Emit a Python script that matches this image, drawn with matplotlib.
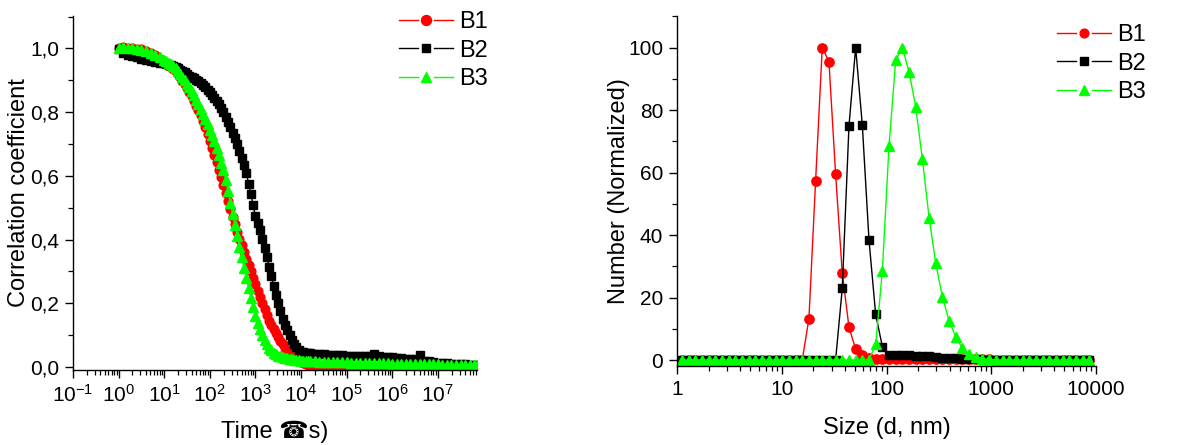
import numpy as np
import matplotlib
matplotlib.use("Agg")
import matplotlib.pyplot as plt
from matplotlib.lines import Line2D
from matplotlib.ticker import FuncFormatter, LogLocator, MultipleLocator, NullFormatter

plt.rcParams['font.family'] = ['Liberation Sans', 'DejaVu Sans']
plt.rcParams['mathtext.fontset'] = 'custom'
plt.rcParams['mathtext.rm'] = 'Liberation Sans'
plt.rcParams['mathtext.it'] = 'Liberation Sans:italic'
plt.rcParams['mathtext.bf'] = 'Liberation Sans:bold'
plt.rcParams['mathtext.default'] = 'regular'

# ---------------- data: correlogram (left) ----------------
log10_time_us = [
    0.0, 0.1, 0.2, 0.3, 0.4, 0.5, 0.6, 0.7, 0.8, 0.9,
    1.00, 1.05, 1.10, 1.15, 1.20, 1.25, 1.30, 1.35, 1.40, 1.45,
    1.50, 1.55, 1.60, 1.65, 1.70, 1.75, 1.80, 1.85, 1.90, 1.95,
    2.00, 2.05, 2.10, 2.15, 2.20, 2.25, 2.30, 2.35, 2.40, 2.45,
    2.50, 2.55, 2.60, 2.65, 2.70, 2.75, 2.80, 2.85, 2.90, 2.95,
    3.00, 3.05, 3.10, 3.15, 3.20, 3.25, 3.30, 3.35, 3.40, 3.45,
    3.50, 3.55, 3.60, 3.65, 3.70, 3.75, 3.80, 3.85, 3.90, 3.95,
    4.00, 4.05, 4.10, 4.15, 4.20,
    4.3, 4.4, 4.5, 4.6, 4.7, 4.8, 4.9, 5.0, 5.1, 5.2,
    5.3, 5.4, 5.5, 5.6, 5.7, 5.8, 5.9, 6.0, 6.1, 6.2,
    6.3, 6.4, 6.5, 6.6, 6.7, 6.8, 6.9, 7.0, 7.1, 7.2,
    7.3, 7.4, 7.5, 7.6, 7.7, 7.8, 7.86,
]

corr_B1 = [
    1.000, 1.004, 1.001, 1.003, 0.999, 0.997, 0.992, 0.986, 0.978, 0.967,
    .955, .951, .946, .941, .935, .928, .919, .909, .898, .887,
    .875, .863, .850, .836, .821, .806, .790, .771, .752, .731,
    .710, .688, .666, .643, .620, .595, .570, .545, .520, .496,
    .472, .448, .425, .403, .382, .361, .340, .320, .300, .280,
    .260, .240, .220, .200, .181, .163, .146, .132, .119, .107,
    .095, .083, .071, .060, .051, .043, .036, .030, .025, .020,
    .016, .012, .009, .006, .004,
    .001, -.001, -.003, -.004, -.005, -.005, -.006, -.006, -.005, -.005,
    -.004, -.003, -.002, .000, .002, .004, .006, .008, .010, .012,
    .013, .012, .011, .010, .009, .008, .007, .006, .005, .005,
    .004, .004, .003, .003, .002, .002, .000,
]

corr_B2 = [
    0.997, 0.985, 0.979, 0.975, 0.972, 0.968, 0.965, 0.961, 0.958, 0.955,
    .953, .951, .949, .947, .945, .942, .938, .934, .930, .925,
    .920, .915, .910, .906, .901, .897, .892, .885, .878, .870,
    .862, .853, .844, .835, .825, .813, .800, .786, .770, .753,
    .736, .718, .700, .679, .657, .634, .610, .576, .542, .508,
    .475, .452, .430, .403, .375, .345, .315, .285, .255, .227,
    .200, .175, .152, .132, .115, .099, .085, .073, .062, .054,
    .048, .046, .045, .044, .043,
    .042, .041, .040, .039, .038, .038, .037, .036, .036, .035,
    .035, .034, .034, .042, .033, .032, .031, .030, .029, .027,
    .026, .025, .024, .037, .020, .018, .016, .014, .013, .012,
    .011, .010, .009, .008, .007, .006, .005,
]

corr_B3 = [
    1.002, 1.005, 1.003, 1.001, 0.999, 0.996, 0.992, 0.987, 0.980, 0.973,
    .965, .961, .956, .951, .945, .938, .930, .921, .912, .901,
    .890, .879, .867, .853, .839, .825, .810, .795, .779, .762,
    .745, .727, .708, .688, .666, .642, .617, .587, .552, .516,
    .480, .446, .412, .377, .344, .311, .280, .249, .218, .188,
    .160, .138, .118, .100, .085, .072, .061, .052, .045, .040,
    .036, .033, .031, .029, .027, .026, .024, .023, .022, .021,
    .020, .020, .019, .019, .018,
    .018, .017, .017, .016, .016, .015, .015, .015, .014, .014,
    .014, .013, .013, .013, .012, .012, .012, .011, .011, .011,
    .010, .010, .010, .009, .009, .008, .008, .008, .007, .007,
    .007, .006, .006, .006, .005, .005, .005,
]

# ---------------- data: size distribution (right) ----------------
size_nm = [
    1.117, 1.294, 1.499, 1.736, 2.010, 2.328, 2.696, 3.122, 3.615, 4.187,
    4.849, 5.615, 6.503, 7.531, 8.721, 10.10, 11.70, 13.54, 15.69, 18.17,
    21.04, 24.36, 28.21, 32.67, 37.84, 43.82, 50.75, 58.77, 68.06, 78.82,
    91.28, 105.7, 122.4, 141.8, 164.2, 190.1, 220.2, 255.0, 295.3, 342.0,
    396.1, 458.7, 531.2, 615.1, 712.4, 825.0, 955.4, 1106, 1281, 1484,
    1718, 1990, 2305, 2669, 3091, 3580, 4145, 4801, 5560, 6439,
    7456, 8635,
]

number_B1 = [
    0, 0, 0, 0, 0, 0, 0, 0, 0, 0,
    0, 0, 0, 0, 0, 0, 0, 0, 0, 13.2,
    57.2, 100, 95.5, 59.5, 27.7, 10.5, 3.5, 1.5, 0.5, 0.3,
    0.2, 0.2, 0.2, 0.2, 0.2, 0.2, 0.2, 0.2, 0.2, 0.2,
    0.2, 0.2, 0.2, 0.2, 0.2, 0.2, 0.2, 0, 0, 0,
    0, 0, 0, 0, 0, 0, 0, 0, 0, 0,
    0, 0,
]

number_B2 = [
    0, 0, 0, 0, 0, 0, 0, 0, 0, 0,
    0, 0, 0, 0, 0, 0, 0, 0, 0, 0,
    0, 0, 0, 0, 23.0, 74.9, 100, 75.2, 38.4, 14.6,
    4.3, 1.6, 1.5, 1.5, 1.5, 1.4, 1.3, 1.2, 1.0, 0.8,
    0.6, 0.5, 0.4, 0.3, 0.2, 0, 0, 0, 0, 0,
    0, 0, 0, 0, 0, 0, 0, 0, 0, 0,
    0, 0,
]

number_B3 = [
    0, 0, 0, 0, 0, 0, 0, 0, 0, 0,
    0, 0, 0, 0, 0, 0, 0, 0, 0, 0,
    0, 0, 0, 0, 0, 0, 0, 0, 0, 5.0,
    28.5, 68.5, 96.0, 100, 92.2, 81.0, 64.2, 45.6, 30.9, 20.2,
    12.5, 7.3, 3.7, 2.0, 1.0, 0.4, 0.2, 0, 0, 0,
    0, 0, 0, 0, 0, 0, 0, 0, 0, 0,
    0, 0,
]

series_labels = ["B1", "B2", "B3"]
series_colors = ["#ff0000", "#000000", "#00ff00"]
series_markers = ["o", "s", "^"]


class GapLineHandler:
    """Origin-style legend entry: line - marker - line with small gaps."""
    def __init__(self, ms):
        self.ms = ms

    def legend_artist(self, legend, orig_handle, fontsize, handlebox):
        x0 = -handlebox.xdescent
        y0 = -handlebox.ydescent
        w = handlebox.width
        h = handlebox.height
        yc = y0 + h / 2.0
        c = orig_handle.get_color()
        lw = orig_handle.get_linewidth()
        seg = 0.35 * w
        tr = handlebox.get_transform()
        a1 = Line2D([x0, x0 + seg], [yc, yc], color=c, lw=lw, transform=tr)
        a2 = Line2D([x0 + w - seg, x0 + w], [yc, yc], color=c, lw=lw, transform=tr)
        mk = orig_handle.get_marker()
        m = Line2D([x0 + w / 2.0], [yc], ls='none', marker=mk,
                   ms=self.ms[mk], color=c, mec=c, transform=tr)
        for a in (a1, a2, m):
            handlebox.add_artist(a)
        return m


fig = plt.figure(figsize=(11.88, 4.45), dpi=100)
W, H = 1188.0, 445.0

def axes_px(l, r, t, b):
    return fig.add_axes([l / W, 1 - b / H, (r - l) / W, (b - t) / H])

axL = axes_px(73.0, 477.0, 16.0, 370.0)
axR = axes_px(677.0, 1096.0, 16.0, 366.0)

t_us = 10.0 ** np.array(log10_time_us)
left_ms = {"o": 6.3, "s": 5.8, "^": 6.8}
for lab, col, mk, yv in zip(series_labels, series_colors, series_markers,
                            [corr_B1, corr_B2, corr_B3]):
    axL.plot(t_us, yv, color=col, marker=mk, ms=left_ms[mk], mec=col,
             lw=1.0, label=lab)

right_ms = {"o": 6.7, "s": 5.8, "^": 7.0}
for lab, col, mk, yv in zip(series_labels, series_colors, series_markers,
                            [number_B1, number_B2, number_B3]):
    axR.plot(size_nm, yv, color=col, marker=mk, ms=right_ms[mk], mec=col,
             lw=1.0, label=lab)

for ax in (axL, axR):
    for s in ("top", "right"):
        ax.spines[s].set_visible(False)
    for s in ("left", "bottom"):
        ax.spines[s].set_linewidth(1.0)
    ax.set_xscale("log")
    ax.tick_params(which="major", direction="out", length=6, width=1.0,
                   labelsize=15, pad=4)
    ax.tick_params(which="minor", direction="out", length=3.5, width=0.9)

# left axis formatting
axL.set_xlim(0.1, 10 ** 7.86)
axL.set_ylim(-0.0094, 1.102)
axL.set_xticks([10.0 ** k for k in range(-1, 8)])
axL.xaxis.set_minor_locator(LogLocator(base=10, subs=range(2, 10), numticks=50))
axL.xaxis.set_minor_formatter(NullFormatter())
axL.xaxis.set_major_formatter(FuncFormatter(
    lambda v, p: r"$10^{%d}$" % int(round(np.log10(v)))))
axL.yaxis.set_major_locator(MultipleLocator(0.2))
axL.yaxis.set_minor_locator(MultipleLocator(0.1))
axL.yaxis.set_major_formatter(FuncFormatter(
    lambda v, p: ("%.1f" % v).replace(".", ",")))
axL.set_ylabel("Correlation coefficient", fontsize=17)
axL.set_xlabel("Time \u260es)", fontsize=17)
axL.yaxis.set_label_coords(-0.106, 0.5)
axL.xaxis.set_label_coords(0.5, -0.144)

# right axis formatting
axR.set_xlim(1, 10000)
axR.set_ylim(-1.92, 110.1)
axR.set_xticks([1, 10, 100, 1000, 10000])
axR.set_xticklabels(["1", "10", "100", "1000", "10000"])
axR.xaxis.set_minor_locator(LogLocator(base=10, subs=range(2, 10), numticks=50))
axR.xaxis.set_minor_formatter(NullFormatter())
axR.yaxis.set_major_locator(MultipleLocator(20))
axR.yaxis.set_minor_locator(MultipleLocator(10))
axR.set_ylabel("Number (Normalized)", fontsize=17)
axR.set_xlabel("Size (d, nm)", fontsize=17)
axR.yaxis.set_label_coords(-0.112, 0.5)
axR.xaxis.set_label_coords(0.5, -0.145)

leg_kw = dict(loc="upper left", bbox_transform=fig.transFigure, frameon=False,
              fontsize=17, handlelength=2.29, handletextpad=0.25,
              labelspacing=0.28, borderpad=0, borderaxespad=0)
axL.legend(handler_map={Line2D: GapLineHandler({"o": 7.2, "s": 5.3, "^": 7.7})},
           bbox_to_anchor=(399 / W, 1 - 10.9 / H), **leg_kw)
axR.legend(handler_map={Line2D: GapLineHandler({"o": 6.3, "s": 5.3, "^": 6.7})},
           bbox_to_anchor=(1057.3 / W, 1 - 23.9 / H), **leg_kw)

fig.savefig("out.png", dpi=100)
